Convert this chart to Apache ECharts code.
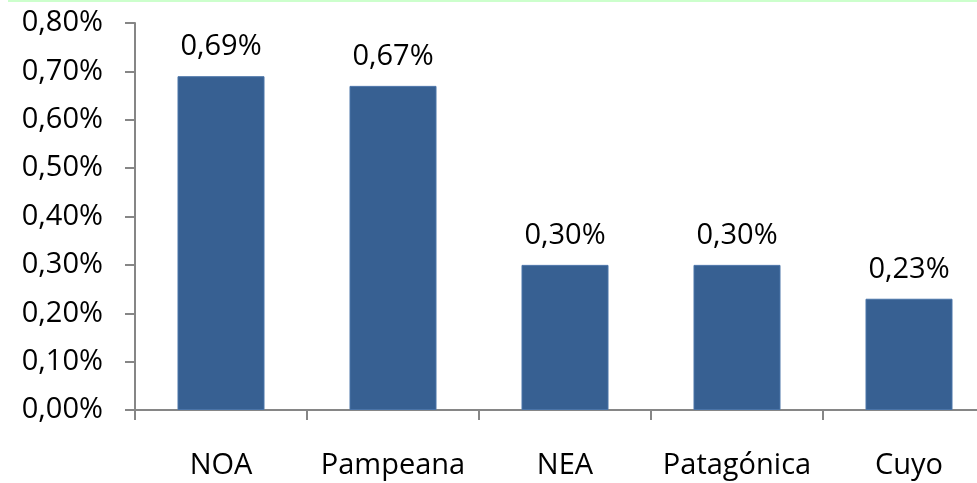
<!DOCTYPE html>
<html>
<head>
<meta charset="utf-8">
<script src="https://cdn.jsdelivr.net/npm/echarts@6/dist/echarts.min.js"></script>
<style>html,body{margin:0;padding:0;background:#fff;}#c{width:977px;height:483px;}</style>
</head>
<body>
<div id="c"></div>
<script>
const categories = ['NOA', 'Pampeana', 'NEA', 'Patagónica', 'Cuyo'];
const values = [0.69, 0.67, 0.30, 0.30, 0.23];
const yTicks = [0, 0.1, 0.2, 0.3, 0.4, 0.5, 0.6, 0.7, 0.8];

function fmt(v) { return v.toFixed(2).replace('.', ',') + '%'; }

const chart = echarts.init(document.getElementById('c'));
const font = 'Open Sans';
chart.setOption({
  animation: false,
  backgroundColor: '#fff',
  graphic: [{
    type: 'rect', left: 8, top: 0,
    shape: { width: 969, height: 2 },
    style: { fill: '#ccffcc' }, silent: true
  }],
  grid: { left: 135, top: 23, right: -18, bottom: 73, containLabel: false, outerBoundsMode: 'none' },
  xAxis: {
    type: 'category',
    data: categories,
    axisLine: { lineStyle: { color: '#868686', width: 2 } },
    axisTick: { show: true, interval: 0, length: 10, lineStyle: { color: '#868686', width: 2 } },
    axisLabel: { interval: 0, color: '#000', fontFamily: font, fontSize: 29, margin: 41 }
  },
  yAxis: {
    type: 'value',
    min: yTicks[0], max: yTicks[yTicks.length - 1], interval: 0.1,
    axisLine: { show: true, lineStyle: { color: '#868686', width: 2 } },
    axisTick: { show: true, length: 10, lineStyle: { color: '#868686', width: 2 } },
    splitLine: { show: false },
    axisLabel: { color: '#000', fontFamily: font, fontSize: 29, margin: 32, formatter: fmt }
  },
  series: [{
    type: 'bar',
    data: values,
    barWidth: 87,
    itemStyle: { color: '#376092', borderColor: '#4a74a8', borderWidth: 1 },
    label: {
      show: true, position: 'top', distance: 15,
      color: '#000', fontFamily: font, fontSize: 29,
      formatter: p => fmt(p.value)
    }
  }]
});
</script>
</body>
</html>
